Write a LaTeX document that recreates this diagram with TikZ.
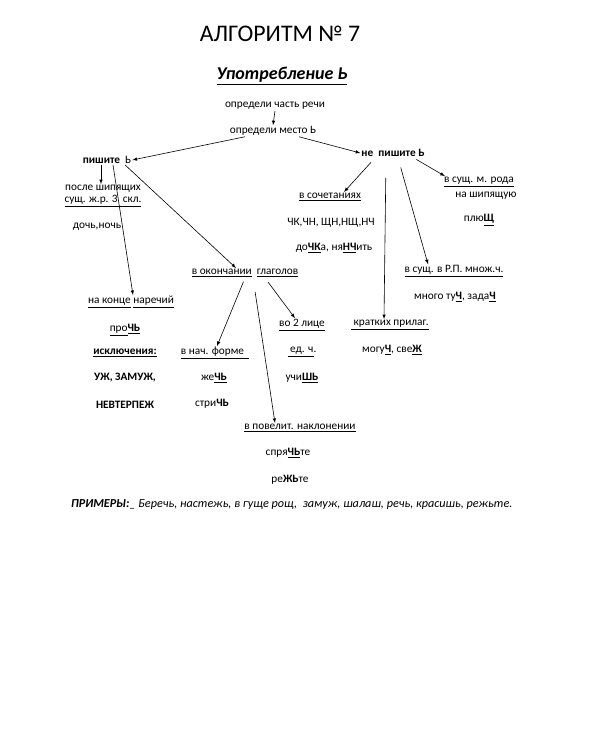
\documentclass[tikz,border=0pt]{standalone}
\usepackage{fontspec}
\setmainfont{Carlito}
\usetikzlibrary{positioning, calc}

\newcommand{\uln}[1]{\underline{#1}}
\newcommand{\bu}[1]{\underline{\textbf{#1}}}

\begin{document}
\begin{tikzpicture}[x=1pt, y=-1pt,
    txt/.style={inner sep=1pt, font=\fontsize{11.3}{13}\selectfont},
    arr/.style={-latex, line width=0.6pt}]
    \useasboundingbox (0,0) rectangle (591,744);

    % Title
    \node[font=\fontsize{23.8}{28}\selectfont] (title) at (280,34) {АЛГОРИТМ № 7};
    \node[font=\fontsize{18}{21}\selectfont\bfseries\itshape] (sub) at (282,76) {\uln{Употребление Ь}};

    % Start
    \node[txt] (chast) at (275,106) {определи часть речи};
    \node[txt] (mesto) at (273,131) {определи место Ь};

    % Left branch: write
    \node[txt] (pishite) at (107,160) {\textbf{пишите}\ \ Ь};
    \node[txt] (posle) at (103,189) {после шипящих};
    \node[txt] (zhr) at (103,201) {\uln{сущ. ж.р. 3\ \ скл.}};
    \node[txt] (doch) at (97,227) {дочь,ночь};

    \node[txt] (nakonce) at (131,302) {\uln{на конце}\ \uln{наречий}};
    \node[txt] (proch) at (125,330) {\uln{про}\bu{ЧЬ}};
    \node[txt] (iskl) at (125,353) {\bu{исключения:}};
    \node[txt] (uzh) at (125,378) {\textbf{УЖ, ЗАМУЖ,}};
    \node[txt] (nevt) at (125,405) {\textbf{НЕВТЕРПЕЖ}};

    \node[txt] (okonch) at (245,273) {\uln{в окончании}\ \ \uln{глаголов}};
    \node[txt] (nachf) at (215,353) {\uln{в нач. форме\ \ }};
    \node[txt] (zhech) at (214,378) {же\bu{ЧЬ}};
    \node[txt] (strich) at (212,404) {стри\textbf{ЧЬ}};

    \node[txt] (vo2) at (302,325) {\uln{во 2 лице}};
    \node[txt] (edch) at (302,352) {\uln{\ ед. ч}.};
    \node[txt] (uchish) at (302,378) {учи\bu{ШЬ}};

    \node[txt] (povel) at (300,428) {\uln{в повелит. наклонении}};
    \node[txt] (spr) at (288,453) {спря\bu{ЧЬ}те};
    \node[txt] (rezh) at (290,480) {ре\textbf{ЖЬ}те};

    % Right branch: do not write
    \node[txt] (nepishite) at (393,153) {\textbf{не\ \ пишите Ь}};
    \node[txt] (sochet) at (330,197) {\uln{в сочетаниях}};
    \node[txt] (chk) at (331,223) {ЧК,ЧН, ЩН,НЩ,НЧ};
    \node[txt] (dochka) at (334,248) {до\bu{ЧК}а, ня\bu{НЧ}ить};

    \node[txt] (mroda) at (479,182) {\uln{в сущ. м. рода}};
    \node[txt] (naship) at (486,196) {на шипящую};
    \node[txt] (plyush) at (479,220) {плю\bu{Щ}};

    \node[txt] (rp) at (454,271) {\uln{в сущ. в Р.П. множ.ч.}};
    \node[txt] (tuch) at (455,297) {много ту\bu{Ч}, зада\bu{Ч}};

    \node[txt] (kratk) at (390,325) {\uln{\ кратких прилаг.}};
    \node[txt] (moguch) at (392,350) {могу\bu{Ч}, све\bu{Ж}};

    % Examples
    \node[txt, anchor=west, font=\fontsize{12.2}{14}\selectfont\itshape] (prim) at (70,505)
        {\textbf{ПРИМЕРЫ:}\_ Беречь, настежь, в гуще рощ,\ \ замуж, шалаш, речь, красишь, режьте.};

    % Arrows
    \draw[arr] (chast.south) -- (mesto.north);
    \draw[arr] ([xshift=-28pt]mesto.south) -- (pishite.east);
    \draw[arr] ([xshift=26pt]mesto.south) -- (nepishite.west);

    \draw[arr] ([xshift=-6pt]pishite.south) -- ([xshift=-2pt]posle.north);
    \draw[arr] ([xshift=6pt]pishite.south) -- ([xshift=2pt]nakonce.north);
    \draw[arr] ([xshift=18pt]pishite.south) -- ([xshift=-9pt]okonch.north);

    \draw[arr, shorten <=4pt] (okonch.south) -- ([xshift=2pt]nachf.north);
    \draw[arr, shorten <=14pt] ([xshift=8pt]okonch.south) -- ([xshift=-25pt]povel.north);
    \draw[arr, shorten <=5pt] ([xshift=20pt]okonch.south) -- ([xshift=-7pt]vo2.north);

    \draw[arr, shorten <=6pt] ([xshift=-18pt]nepishite.south) -- ([xshift=14pt]sochet.north);
    \draw[arr, shorten <=20pt] ([xshift=-7pt]nepishite.south) -- ([xshift=-6pt]kratk.north);
    \draw[arr, shorten <=10pt] ([xshift=5pt]nepishite.south) -- ([xshift=-26pt]rp.north);
    \draw[arr, shorten <=3pt] ([xshift=-12pt]nepishite.south east) -- ([xshift=2pt]mroda.north west);
\end{tikzpicture}
\end{document}
